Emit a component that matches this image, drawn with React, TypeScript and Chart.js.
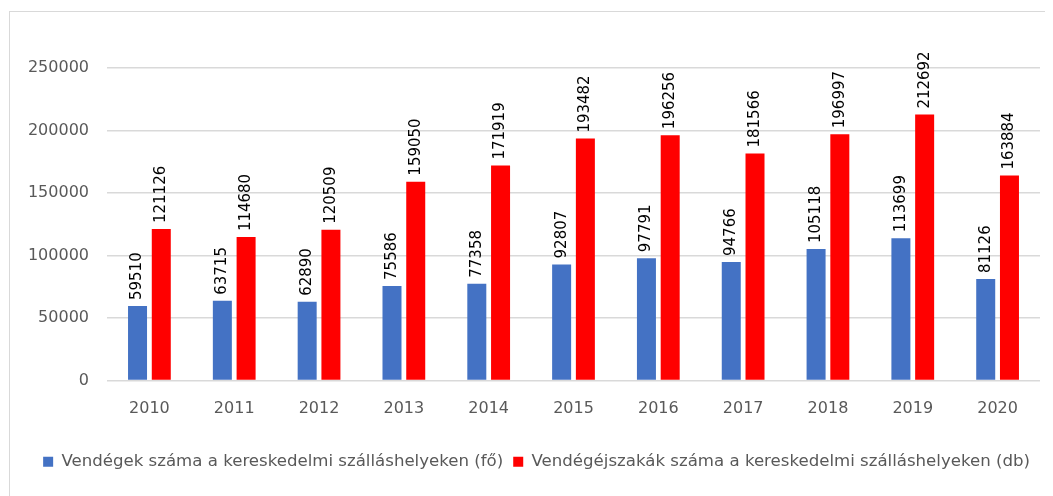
import React, { useEffect, useRef } from "react";
import { Chart, registerables } from "chart.js";

Chart.register(...registerables);

const years = ["2010", "2011", "2012", "2013", "2014", "2015", "2016", "2017", "2018", "2019", "2020"];
const guests = [59510, 63715, 62890, 75586, 77358, 92807, 97791, 94766, 105118, 113699, 81126];
const nights = [121126, 114680, 120509, 159050, 171919, 193482, 196256, 181566, 196997, 212692, 163884];
const seriesNames = [
  "Vendégek száma a kereskedelmi szálláshelyeken (fő)",
  "Vendégéjszakák száma a kereskedelmi szálláshelyeken (db)",
];

const FONT = "'DejaVu Sans', sans-serif";

const barLabels = {
  id: "barLabels",
  afterDatasetsDraw(chart: any) {
    const ctx = chart.ctx;
    chart.data.datasets.forEach((ds: any, i: number) => {
      const meta = chart.getDatasetMeta(i);
      meta.data.forEach((bar: any, j: number) => {
        ctx.save();
        ctx.font = `15px ${FONT}`;
        ctx.fillStyle = "#000000";
        ctx.translate(bar.x, bar.y - 6);
        ctx.rotate(-Math.PI / 2);
        ctx.textAlign = "left";
        ctx.textBaseline = "middle";
        ctx.fillText(String(ds.data[j]), 0, 0);
        ctx.restore();
      });
    });
  },
};

export default function App() {
  const ref = useRef<HTMLCanvasElement | null>(null);

  useEffect(() => {
    if (!ref.current) return;
    const chart = new Chart(ref.current, {
      type: "bar",
      data: {
        labels: years,
        datasets: [
          { label: seriesNames[0], data: guests, backgroundColor: "#4472C4", categoryPercentage: 0.56, barPercentage: 0.8 },
          { label: seriesNames[1], data: nights, backgroundColor: "#FF0000", categoryPercentage: 0.56, barPercentage: 0.8 },
        ],
      },
      options: {
        responsive: false,
        animation: false,
        layout: { padding: { left: 0, right: 13, top: 56, bottom: 16 } },
        scales: {
          x: {
            grid: { display: false, drawTicks: false },
            border: { display: false },
            ticks: { color: "#595959", font: { family: FONT, size: 16 }, padding: 19 },
            afterFit: (s: any) => { s.height = 63; },
          },
          y: {
            min: 0,
            max: 250000,
            ticks: {
              stepSize: 50000,
              color: "#595959",
              font: { family: FONT, size: 16 },
              padding: 18,
              callback: (v: any) => String(v),
            },
            grid: { color: "#d9d9d9", drawTicks: false, lineWidth: 1.5 },
            border: { display: false },
            afterFit: (s: any) => { s.width = 97; },
          },
        },
        plugins: {
          legend: {
            position: "bottom",
            align: "end",
            labels: {
              boxWidth: 10,
              boxHeight: 10,
              padding: 10,
              color: "#595959",
              font: { family: FONT, size: 16.6 },
            },
          },
          tooltip: { enabled: false },
        },
      },
      plugins: [barLabels],
    });
    return () => chart.destroy();
  }, []);

  return (
    <div
      style={{
        marginTop: 3,
        marginLeft: 1,
        width: 1050,
        height: 490,
        border: "1px solid #d9d9d9",
        boxSizing: "border-box",
      }}
    >
      <canvas ref={ref} width={1043} height={484} style={{ display: "block" }} />
    </div>
  );
}
